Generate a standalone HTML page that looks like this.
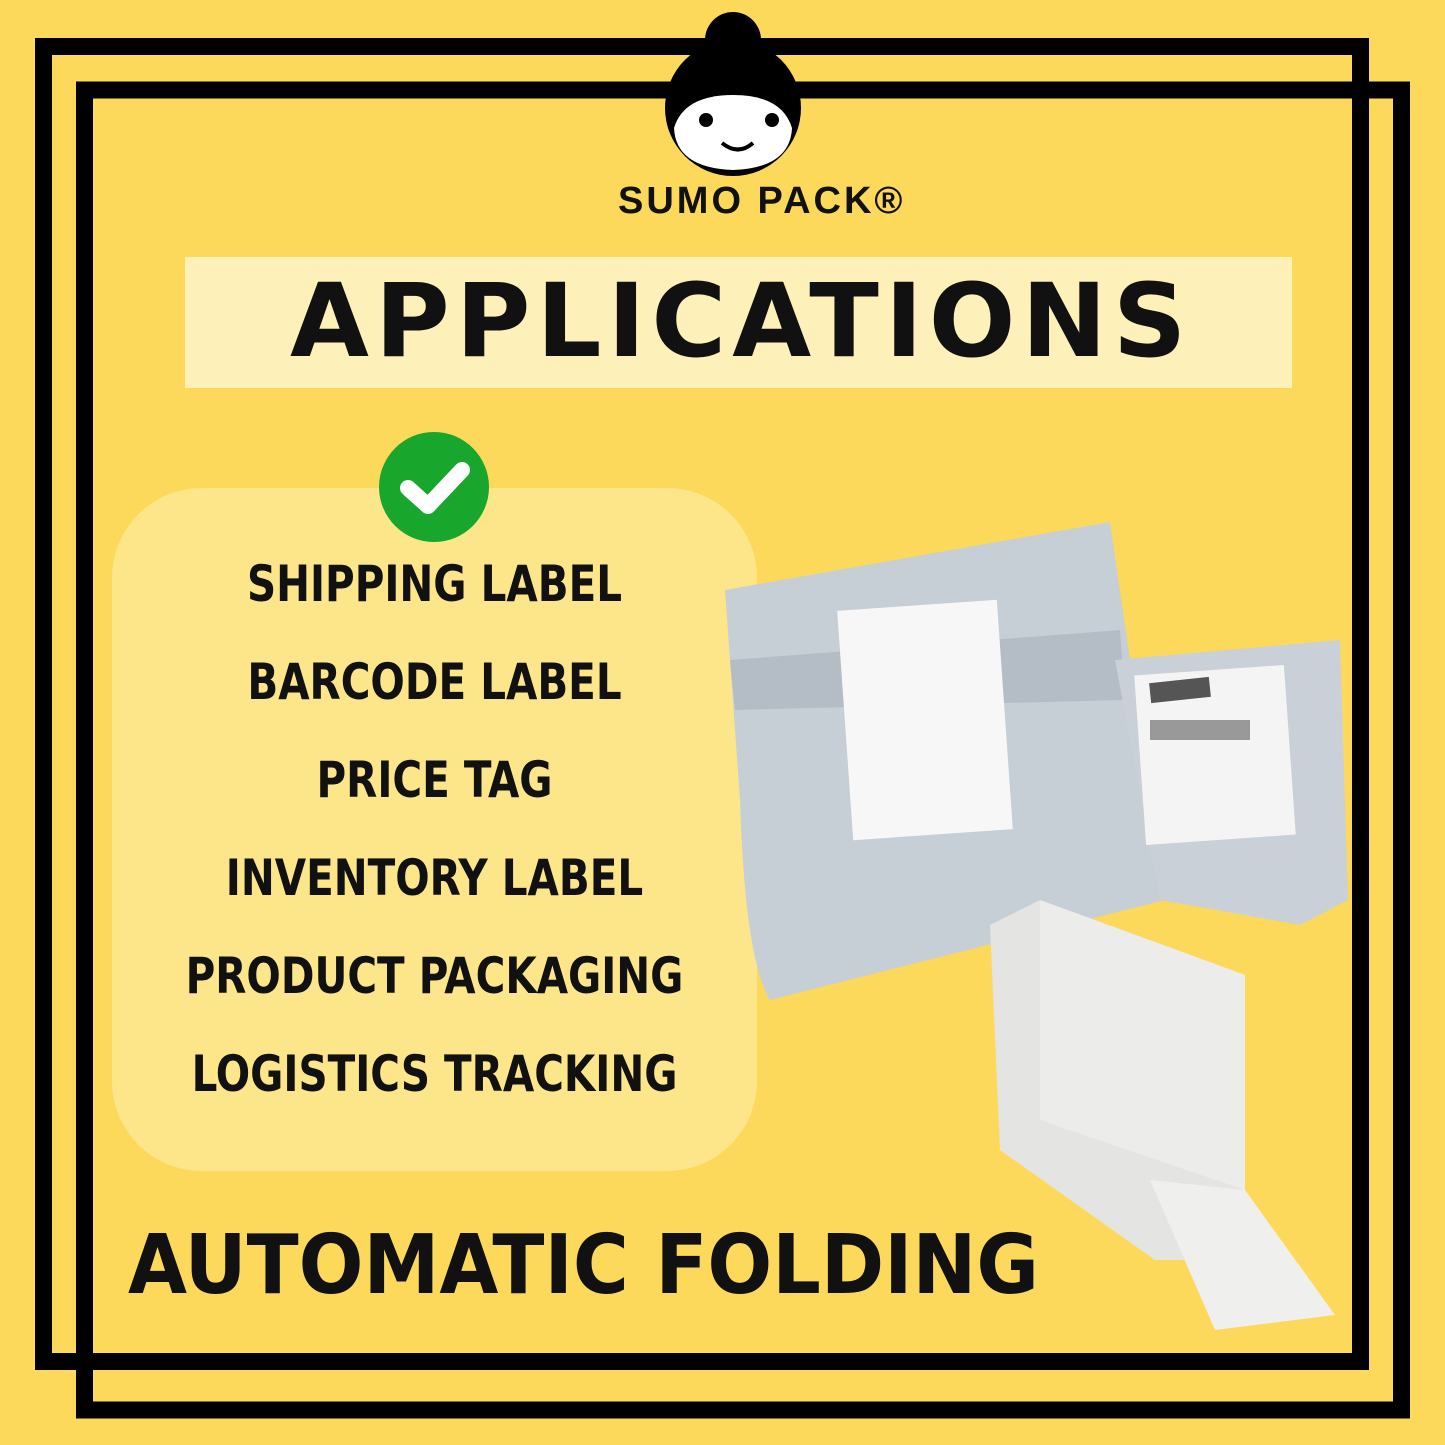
<!DOCTYPE html>
<html><head><meta charset="utf-8"><style>
html,body{margin:0;padding:0}
body{width:1445px;height:1445px;background:#fdd95b;position:relative;overflow:hidden;font-family:"Liberation Sans",sans-serif}
.t{position:absolute;font-weight:bold;color:#111;white-space:nowrap}
.item{position:absolute;left:112px;width:645px;text-align:center;font-size:50px;font-weight:bold;color:#111;font-family:"DejaVu Sans Condensed","Liberation Sans Narrow",sans-serif;transform:scaleX(0.9)}
</style></head><body>
<svg width="1445" height="1445" style="position:absolute;left:0;top:0">
<rect x="43.5" y="46.5" width="1317" height="1315" fill="none" stroke="#000" stroke-width="17"/>
<rect x="84.5" y="90" width="1317" height="1320" fill="none" stroke="#000" stroke-width="17"/>
<rect x="185" y="257" width="1107" height="131" fill="#fdf0b8"/>
<rect x="112" y="488" width="645" height="683" rx="90" fill="#fde68a"/>
<!-- logo -->
<circle cx="733" cy="40" r="28" fill="#000"/>
<circle cx="733" cy="108" r="68" fill="#000"/>
<path d="M674 128 Q684 95 733 95 Q782 95 792 128 Q790 168 733 170 Q676 168 674 128Z" fill="#fff"/>
<circle cx="706" cy="120" r="7" fill="#000"/>
<circle cx="772" cy="120" r="7" fill="#000"/>
<path d="M722 143 Q738 156 753 143" stroke="#000" stroke-width="4" fill="none"/>
<!-- check -->
<circle cx="434" cy="487" r="55" fill="#19a62c"/>
<path d="M408 488 L428 506 L462 470" stroke="#fff" stroke-width="16" fill="none" stroke-linecap="round" stroke-linejoin="round"/>
<!-- big bag -->
<path d="M725 590 L1110 522 L1165 900 L770 1000 Q745 960 740 800Z" fill="#c6ced6"/>
<path d="M730 660 L1120 630 L1125 700 L735 710Z" fill="#b4bdc6"/>
<rect x="845" y="605" width="160" height="230" fill="#f7f7f7" transform="rotate(-4 925 720)"/>
<!-- small bag -->
<path d="M1115 660 L1340 640 L1348 900 L1300 925 L1160 900Z" fill="#c9d0d8"/>
<rect x="1140" y="670" width="150" height="170" fill="#f4f4f4" transform="rotate(-4 1215 755)"/>
<rect x="1150" y="680" width="60" height="20" fill="#555" transform="rotate(-6 1180 690)"/>
<rect x="1150" y="720" width="100" height="20" fill="#999"/>
<!-- stack -->
<path d="M990 925 L1040 900 L1245 975 L1245 1260 L1155 1260 L1000 1150Z" fill="#e4e4e2"/>
<path d="M1040 900 L1245 975 L1245 1190 L1040 1120Z" fill="#ececea"/>
<path d="M1150 1180 L1245 1190 L1335 1315 L1215 1330Z" fill="#efefed"/>
</svg>
<div class="t" style="left:618px;top:180px;font-size:38px;letter-spacing:3px">SUMO PACK®</div>
<div class="t" style="left:290px;top:262px;font-size:102px;letter-spacing:6px;font-family:'DejaVu Sans',sans-serif">APPLICATIONS</div>
<div class="item" style="top:555px">SHIPPING LABEL</div>
<div class="item" style="top:653px">BARCODE LABEL</div>
<div class="item" style="top:751px">PRICE TAG</div>
<div class="item" style="top:849px">INVENTORY LABEL</div>
<div class="item" style="top:947px">PRODUCT PACKAGING</div>
<div class="item" style="top:1045px">LOGISTICS TRACKING</div>
<div class="t" style="left:128px;top:1218px;font-size:82px;font-family:'DejaVu Sans',sans-serif;transform:scaleX(0.93);transform-origin:left">AUTOMATIC FOLDING</div>
</body></html>
